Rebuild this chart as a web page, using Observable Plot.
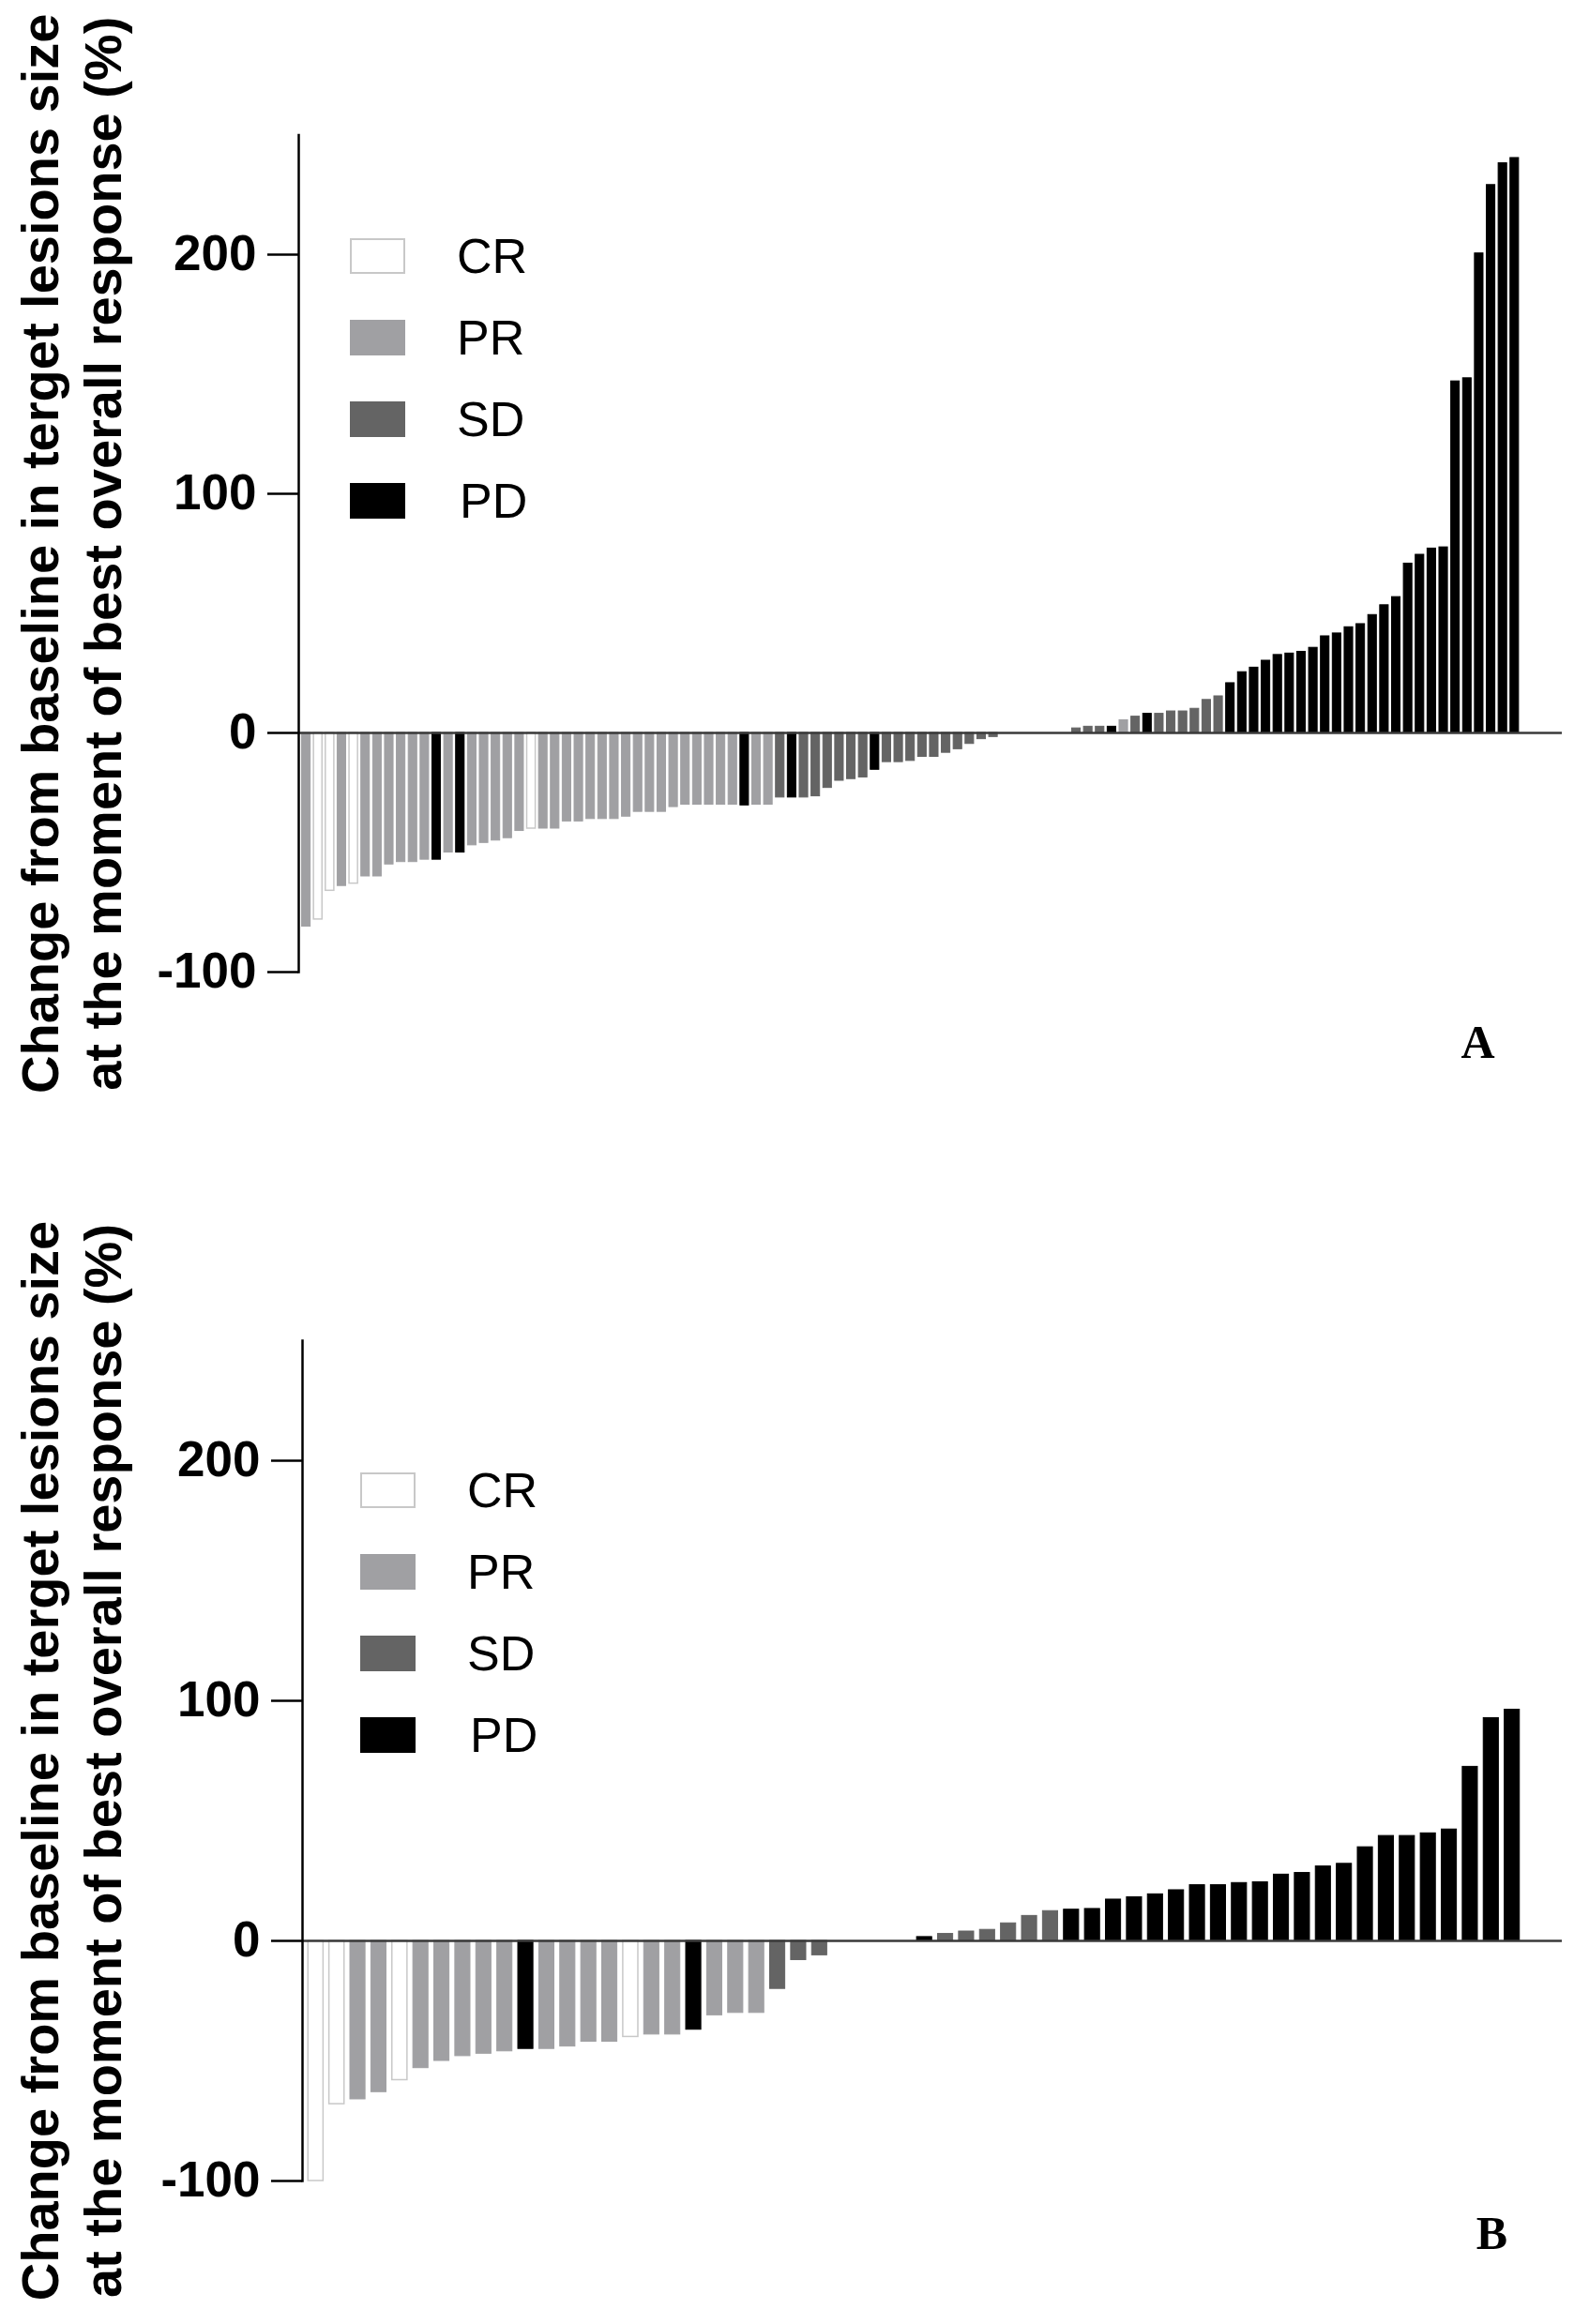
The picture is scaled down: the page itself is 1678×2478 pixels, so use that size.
<!DOCTYPE html>
<html><head><meta charset="utf-8">
<script src="https://cdn.jsdelivr.net/npm/d3@7"></script>
<script src="https://cdn.jsdelivr.net/npm/@observablehq/plot@0.6"></script>
<style>
body{margin:0;background:#fff;}
.panel{position:relative;width:1678px;}
.sw{position:absolute;width:59px;height:38px;box-sizing:border-box;}
.lb{position:absolute;font:52px "Liberation Sans",Arial,sans-serif;line-height:52px;color:#000;}
</style></head><body>
<div id="A" class="panel"></div>
<div id="B" class="panel"></div>
<script>
const categories = ["CR", "PR", "SD", "PD"];
const fills = ["#ffffff", "#a0a0a3", "#646464", "#000000"];
const crStroke = "#c8c8c8";
const yTicks = [-100, 0, 100, 200];
const yTitle1 = "Change from baseline in terget lesions size";
const yTitle2 = "at the moment of best overall response (%)";

// Panel A
const aValues = [
  -81, -78, -66, -64, -63, -60, -60, -55, -54, -54, -53, -53, -50, -50, -47, -46, -45, -44, -41, -40,
  -40, -40, -37, -37, -36, -36, -36, -35, -33, -33, -33, -31, -30, -30, -30, -30, -30, -30.3, -30, -30,
  -27, -27, -27, -26.5, -23, -20, -19.3, -18.6, -15.4, -12.2, -12.2, -11.7, -10, -10, -8.3, -6.8, -4.6, -2.6, -1.7,
  0, 0, 0, 0, 0, 0,
  1.9, 2.6, 2.6, 2.6, 5.3, 6.8, 8.0, 8.0, 9.0, 9.0, 10.1, 13.8, 15.3, 20.8, 25.4, 27.3, 30.2, 32.6, 33.2, 33.9,
  35.6, 40.4, 41.6, 44.2, 45.5, 49.3, 53.4, 56.8, 70.8, 74.5, 77.1, 77.6, 147.0, 148.3, 200.5, 229.1, 238.2, 240.4
];
const aResponse = [
  "PR","CR","CR","PR","CR","PR","PR","PR","PR","PR","PR","PD","PR","PD","PR","PR","PR","PR","PR","CR",
  "PR","PR","PR","PR","PR","PR","PR","PR","PR","PR","PR","PR","PR","PR","PR","PR","PR","PD","PR","PR",
  "SD","PD","SD","SD","SD","SD","SD","SD","PD","SD","SD","SD","SD","SD","SD","SD","SD","SD","SD",
  "SD","SD","SD","SD","SD","SD",
  "SD","SD","SD","PD","PR","SD","PD","SD","SD","SD","SD","SD","SD","PD","PD","PD","PD","PD","PD","PD",
  "PD","PD","PD","PD","PD","PD","PD","PD","PD","PD","PD","PD","PD","PD","PD","PD","PD","PD"
];

// Panel B
const bValues = [
  -100, -68, -66, -63, -58, -53, -50, -48, -47, -46, -45, -45, -44, -42, -42, -40, -39, -39, -37, -31,
  -30, -30, -20, -8, -6,
  0, 0, 0, 0,
  1.6, 2.9, 3.9, 4.6, 7.3, 10.4, 12.4, 13.0, 13.3, 17.2, 18.2, 19.4, 21.1, 23.2, 23.2, 24.1, 24.4, 27.6, 28.3, 31.0,
  32.1, 39.0, 43.7, 43.7, 44.8, 46.4, 72.5, 92.8, 96.3
];
const bResponse = [
  "CR","CR","PR","PR","CR","PR","PR","PR","PR","PR","PD","PR","PR","PR","PR","CR","PR","PR","PD","PR",
  "PR","PR","SD","SD","SD",
  "SD","SD","SD","SD",
  "PD","SD","SD","SD","SD","SD","SD","PD","PD","PD","PD","PD","PD","PD","PD","PD","PD","PD","PD","PD",
  "PD","PD","PD","PD","PD","PD","PD","PD","PD"
];

function panel(id, values, responses, cfg) {
  const data = values.map((v, i) => ({i: i + 1, v, r: responses[i]}));
  const chart = Plot.plot({
    width: 1678,
    height: cfg.height,
    marginLeft: cfg.left,
    marginRight: 13,
    marginTop: cfg.top,
    marginBottom: cfg.bottom,
    style: {fontFamily: '"Liberation Sans", Arial, sans-serif', background: "#fff", color: "#000"},
    x: {type: "band", domain: data.map(d => d.i), range: cfg.xRange, padding: 0.28, round: false, axis: null},
    y: {domain: [-100, 250], axis: null},
    color: {domain: categories, range: fills},
    marks: [
      Plot.barY(data, {x: "i", y: "v", fill: "r", stroke: "r", strokeWidth: 1}),
      Plot.barY(data.filter(d => d.r === "CR"), {x: "i", y: "v", fill: "#fff", stroke: crStroke, strokeWidth: 1.5}),
      Plot.ruleY([0], {stroke: "#3a3a3a", strokeWidth: 2.5}),
      Plot.frame({anchor: "left", stroke: "#000", strokeWidth: 2.5}),
      Plot.axisY(yTicks, {tickSize: 33, tickPadding: 12, tickFormat: d => String(d), fontSize: 53, fontWeight: "bold", strokeWidth: 2.5, label: null, fill: "#000"}),
      Plot.text([yTitle1], {frameAnchor: "left", dx: 61 - cfg.left, rotate: -90, lineAnchor: "bottom", textAnchor: "middle", fontSize: 56, fontWeight: "bold", fill: "#000"}),
      Plot.text([yTitle2], {frameAnchor: "left", dx: 128 - cfg.left, rotate: -90, lineAnchor: "bottom", textAnchor: "middle", fontSize: 56, fontWeight: "bold", fill: "#000"}),
      Plot.text([cfg.letter], {frameAnchor: "bottom-right", dx: cfg.letterDx, dy: cfg.letterDy, lineAnchor: "bottom", textAnchor: "middle", fontSize: 50, fontWeight: "bold", fontFamily: '"Liberation Serif", "Times New Roman", serif', fill: "#000"})
    ]
  });
  const el = document.getElementById(id);
  el.style.height = cfg.height + "px";
  el.appendChild(chart);
  categories.forEach((c, k) => {
    const top = cfg.legTop + k * 87;
    const sw = document.createElement("div");
    sw.className = "sw";
    sw.style.left = cfg.legLeft + "px";
    sw.style.top = top + "px";
    sw.style.background = fills[k];
    if (c === "CR") sw.style.border = "2px solid " + crStroke;
    el.appendChild(sw);
    const lb = document.createElement("div");
    lb.className = "lb";
    lb.style.left = cfg.labLeft + (c === "PD" ? 3 : 0) + "px";
    lb.style.top = (top + 19 - 26) + "px";
    lb.textContent = c;
    el.appendChild(lb);
  });
}

panel("A", aValues, aResponse, {
  height: 1240, top: 143.5, bottom: 204, left: 318, xRange: [318, 1622.4],
  letter: "A", letterDx: -90, letterDy: 91,
  legTop: 254, legLeft: 373, labLeft: 487
});
panel("B", bValues, bResponse, {
  height: 1238, top: 189, bottom: 153, left: 322, xRange: [322, 1626],
  letter: "B", letterDx: -75, letterDy: 72,
  legTop: 330, legLeft: 384, labLeft: 498
});
</script>
</body></html>
